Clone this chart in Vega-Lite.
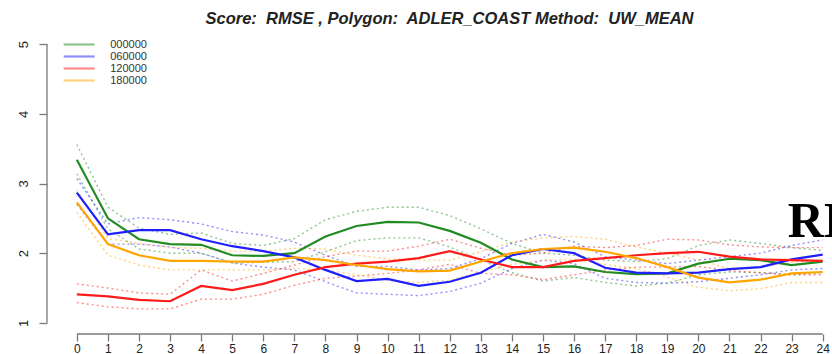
{
  "$schema": "https://vega.github.io/schema/vega-lite/v6.json",
  "autosize": {"type": "none"},
  "padding": {"left": 47, "top": 33, "right": 0, "bottom": 20},
  "width": 785,
  "height": 301,
  "background": "white",
  "title": {
    "text": "Score:\u00a0 RMSE , Polygon:\u00a0 ADLER_COAST  Method:\u00a0 UW_MEAN",
    "font": "Liberation Sans",
    "fontSize": 16.5,
    "fontWeight": "bold",
    "fontStyle": "italic",
    "color": "#222222",
    "anchor": "middle",
    "dx": 10,
    "offset": 6
  },
  "config": {
    "view": {"stroke": null},
    "font": "Liberation Sans",
    "axis": {"labelOverlap": false, "labelBound": false, "labelFlush": false, "grid": false, "domain": false, "title": null}
  },
  "data": {
    "values": [
      {"h": 0, "s": "000000", "m": 3.34, "lo": 3.14, "hi": 3.56},
      {"h": 1, "s": "000000", "m": 2.50, "lo": 2.35, "hi": 2.66},
      {"h": 2, "s": "000000", "m": 2.20, "lo": 2.06, "hi": 2.36},
      {"h": 3, "s": "000000", "m": 2.13, "lo": 2.00, "hi": 2.27},
      {"h": 4, "s": "000000", "m": 2.12, "lo": 2.00, "hi": 2.29},
      {"h": 5, "s": "000000", "m": 1.97, "lo": 1.86, "hi": 2.14},
      {"h": 6, "s": "000000", "m": 1.96, "lo": 1.87, "hi": 2.11},
      {"h": 7, "s": "000000", "m": 2.00, "lo": 1.88, "hi": 2.21},
      {"h": 8, "s": "000000", "m": 2.24, "lo": 2.02, "hi": 2.48},
      {"h": 9, "s": "000000", "m": 2.39, "lo": 2.18, "hi": 2.60},
      {"h": 10, "s": "000000", "m": 2.45, "lo": 2.22, "hi": 2.66},
      {"h": 11, "s": "000000", "m": 2.44, "lo": 2.22, "hi": 2.66},
      {"h": 12, "s": "000000", "m": 2.32, "lo": 2.09, "hi": 2.54},
      {"h": 13, "s": "000000", "m": 2.15, "lo": 1.90, "hi": 2.35},
      {"h": 14, "s": "000000", "m": 1.91, "lo": 1.72, "hi": 2.14},
      {"h": 15, "s": "000000", "m": 1.80, "lo": 1.60, "hi": 2.00},
      {"h": 16, "s": "000000", "m": 1.81, "lo": 1.65, "hi": 1.97},
      {"h": 17, "s": "000000", "m": 1.73, "lo": 1.58, "hi": 1.90},
      {"h": 18, "s": "000000", "m": 1.70, "lo": 1.53, "hi": 1.88},
      {"h": 19, "s": "000000", "m": 1.71, "lo": 1.57, "hi": 1.92},
      {"h": 20, "s": "000000", "m": 1.85, "lo": 1.69, "hi": 2.11},
      {"h": 21, "s": "000000", "m": 1.92, "lo": 1.73, "hi": 2.19},
      {"h": 22, "s": "000000", "m": 1.90, "lo": 1.72, "hi": 2.14},
      {"h": 23, "s": "000000", "m": 1.83, "lo": 1.69, "hi": 2.08},
      {"h": 24, "s": "000000", "m": 1.88, "lo": 1.72, "hi": 2.04},

      {"h": 0, "s": "060000", "m": 2.87, "lo": 2.70, "hi": 3.07},
      {"h": 1, "s": "060000", "m": 2.27, "lo": 2.13, "hi": 2.42},
      {"h": 2, "s": "060000", "m": 2.33, "lo": 2.13, "hi": 2.51},
      {"h": 3, "s": "060000", "m": 2.33, "lo": 2.09, "hi": 2.48},
      {"h": 4, "s": "060000", "m": 2.20, "lo": 2.00, "hi": 2.42},
      {"h": 5, "s": "060000", "m": 2.10, "lo": 1.86, "hi": 2.31},
      {"h": 6, "s": "060000", "m": 2.03, "lo": 1.80, "hi": 2.26},
      {"h": 7, "s": "060000", "m": 1.94, "lo": 1.76, "hi": 2.16},
      {"h": 8, "s": "060000", "m": 1.76, "lo": 1.59, "hi": 1.97},
      {"h": 9, "s": "060000", "m": 1.60, "lo": 1.43, "hi": 1.81},
      {"h": 10, "s": "060000", "m": 1.63, "lo": 1.41, "hi": 1.81},
      {"h": 11, "s": "060000", "m": 1.53, "lo": 1.39, "hi": 1.76},
      {"h": 12, "s": "060000", "m": 1.59, "lo": 1.45, "hi": 1.78},
      {"h": 13, "s": "060000", "m": 1.72, "lo": 1.57, "hi": 1.92},
      {"h": 14, "s": "060000", "m": 1.97, "lo": 1.78, "hi": 2.14},
      {"h": 15, "s": "060000", "m": 2.06, "lo": 1.90, "hi": 2.27},
      {"h": 16, "s": "060000", "m": 2.00, "lo": 1.85, "hi": 2.16},
      {"h": 17, "s": "060000", "m": 1.79, "lo": 1.64, "hi": 1.95},
      {"h": 18, "s": "060000", "m": 1.72, "lo": 1.58, "hi": 1.90},
      {"h": 19, "s": "060000", "m": 1.71, "lo": 1.57, "hi": 1.85},
      {"h": 20, "s": "060000", "m": 1.72, "lo": 1.59, "hi": 1.90},
      {"h": 21, "s": "060000", "m": 1.77, "lo": 1.64, "hi": 1.95},
      {"h": 22, "s": "060000", "m": 1.80, "lo": 1.69, "hi": 2.00},
      {"h": 23, "s": "060000", "m": 1.91, "lo": 1.76, "hi": 2.11},
      {"h": 24, "s": "060000", "m": 1.98, "lo": 1.78, "hi": 2.19},

      {"h": 0, "s": "120000", "m": 1.41, "lo": 1.29, "hi": 1.56},
      {"h": 1, "s": "120000", "m": 1.38, "lo": 1.23, "hi": 1.50},
      {"h": 2, "s": "120000", "m": 1.33, "lo": 1.20, "hi": 1.43},
      {"h": 3, "s": "120000", "m": 1.31, "lo": 1.20, "hi": 1.41},
      {"h": 4, "s": "120000", "m": 1.53, "lo": 1.34, "hi": 1.76},
      {"h": 5, "s": "120000", "m": 1.47, "lo": 1.34, "hi": 1.60},
      {"h": 6, "s": "120000", "m": 1.56, "lo": 1.41, "hi": 1.71},
      {"h": 7, "s": "120000", "m": 1.69, "lo": 1.54, "hi": 1.83},
      {"h": 8, "s": "120000", "m": 1.80, "lo": 1.64, "hi": 1.95},
      {"h": 9, "s": "120000", "m": 1.85, "lo": 1.67, "hi": 2.03},
      {"h": 10, "s": "120000", "m": 1.88, "lo": 1.71, "hi": 2.03},
      {"h": 11, "s": "120000", "m": 1.93, "lo": 1.76, "hi": 2.10},
      {"h": 12, "s": "120000", "m": 2.03, "lo": 1.84, "hi": 2.20},
      {"h": 13, "s": "120000", "m": 1.91, "lo": 1.71, "hi": 2.07},
      {"h": 14, "s": "120000", "m": 1.80, "lo": 1.69, "hi": 1.97},
      {"h": 15, "s": "120000", "m": 1.80, "lo": 1.62, "hi": 2.00},
      {"h": 16, "s": "120000", "m": 1.89, "lo": 1.69, "hi": 2.10},
      {"h": 17, "s": "120000", "m": 1.93, "lo": 1.76, "hi": 2.08},
      {"h": 18, "s": "120000", "m": 1.97, "lo": 1.80, "hi": 2.11},
      {"h": 19, "s": "120000", "m": 2.00, "lo": 1.80, "hi": 2.20},
      {"h": 20, "s": "120000", "m": 2.02, "lo": 1.81, "hi": 2.19},
      {"h": 21, "s": "120000", "m": 1.95, "lo": 1.75, "hi": 2.12},
      {"h": 22, "s": "120000", "m": 1.91, "lo": 1.72, "hi": 2.09},
      {"h": 23, "s": "120000", "m": 1.90, "lo": 1.69, "hi": 2.08},
      {"h": 24, "s": "120000", "m": 1.89, "lo": 1.69, "hi": 2.08},

      {"h": 0, "s": "180000", "m": 2.73, "lo": 2.59, "hi": 2.91},
      {"h": 1, "s": "180000", "m": 2.13, "lo": 1.97, "hi": 2.21},
      {"h": 2, "s": "180000", "m": 1.97, "lo": 1.83, "hi": 2.14},
      {"h": 3, "s": "180000", "m": 1.89, "lo": 1.76, "hi": 2.08},
      {"h": 4, "s": "180000", "m": 1.89, "lo": 1.76, "hi": 2.07},
      {"h": 5, "s": "180000", "m": 1.88, "lo": 1.76, "hi": 2.03},
      {"h": 6, "s": "180000", "m": 1.88, "lo": 1.76, "hi": 2.03},
      {"h": 7, "s": "180000", "m": 1.94, "lo": 1.78, "hi": 2.07},
      {"h": 8, "s": "180000", "m": 1.90, "lo": 1.76, "hi": 2.06},
      {"h": 9, "s": "180000", "m": 1.83, "lo": 1.69, "hi": 1.97},
      {"h": 10, "s": "180000", "m": 1.77, "lo": 1.61, "hi": 1.92},
      {"h": 11, "s": "180000", "m": 1.74, "lo": 1.58, "hi": 1.90},
      {"h": 12, "s": "180000", "m": 1.75, "lo": 1.61, "hi": 1.90},
      {"h": 13, "s": "180000", "m": 1.88, "lo": 1.73, "hi": 2.02},
      {"h": 14, "s": "180000", "m": 2.00, "lo": 1.84, "hi": 2.16},
      {"h": 15, "s": "180000", "m": 2.06, "lo": 1.90, "hi": 2.22},
      {"h": 16, "s": "180000", "m": 2.08, "lo": 1.91, "hi": 2.24},
      {"h": 17, "s": "180000", "m": 2.02, "lo": 1.84, "hi": 2.20},
      {"h": 18, "s": "180000", "m": 1.93, "lo": 1.78, "hi": 2.09},
      {"h": 19, "s": "180000", "m": 1.80, "lo": 1.66, "hi": 2.00},
      {"h": 20, "s": "180000", "m": 1.65, "lo": 1.51, "hi": 1.90},
      {"h": 21, "s": "180000", "m": 1.58, "lo": 1.46, "hi": 1.78},
      {"h": 22, "s": "180000", "m": 1.62, "lo": 1.49, "hi": 1.80},
      {"h": 23, "s": "180000", "m": 1.71, "lo": 1.58, "hi": 1.87},
      {"h": 24, "s": "180000", "m": 1.73, "lo": 1.58, "hi": 1.90}
    ]
  },
  "layer": [
    {
      "data": {"values": [{}]},
      "mark": {"type": "rule", "color": "#7a7a7a", "strokeWidth": 1.3},
      "encoding": {
        "x": {"datum": 0, "type": "quantitative", "scale": {"domain": [-0.96, 24.3], "nice": false, "zero": false}},
        "x2": {"datum": 24},
        "y": {"datum": 0.84, "type": "quantitative", "scale": {"domain": [0.84, 5.16], "nice": false, "zero": false}}
      }
    },
    {
      "data": {"values": [{}]},
      "mark": {"type": "rule", "color": "#7a7a7a", "strokeWidth": 1.3},
      "encoding": {
        "x": {"datum": -0.96, "type": "quantitative"},
        "y": {"datum": 1, "type": "quantitative"},
        "y2": {"datum": 5}
      }
    },
    {
      "transform": [{"fold": ["lo", "hi"], "as": ["b", "v"]}],
      "mark": {"type": "line", "strokeWidth": 1.4, "strokeDash": [2, 3], "opacity": 0.5},
      "encoding": {
        "x": {"field": "h", "type": "quantitative"},
        "y": {"field": "v", "type": "quantitative"},
        "color": {"field": "s", "type": "nominal"},
        "detail": {"field": "b"}
      }
    },
    {
      "mark": {"type": "line", "strokeWidth": 2.2},
      "encoding": {
        "x": {
          "field": "h",
          "type": "quantitative",
          "axis": {
            "values": [0, 1, 2, 3, 4, 5, 6, 7, 8, 9, 10, 11, 12, 13, 14, 15, 16, 17, 18, 19, 20, 21, 22, 23, 24],
            "tickCount": 25,
            "format": "d",
            "tickSize": 7,
            "tickColor": "#7a7a7a",
            "tickWidth": 1.3,
            "labelFontSize": 12,
            "labelColor": "#222222",
            "labelPadding": 2,
            "labelOverlap": false
          }
        },
        "y": {
          "field": "m",
          "type": "quantitative",
          "axis": {
            "values": [1, 2, 3, 4, 5],
            "format": "d",
            "tickSize": 8,
            "tickColor": "#7a7a7a",
            "tickWidth": 1.3,
            "labelAngle": 270,
            "labelAlign": "center",
            "labelBaseline": "bottom",
            "labelFontSize": 13,
            "labelColor": "#222222",
            "labelPadding": 9
          }
        },
        "color": {
          "field": "s",
          "type": "nominal",
          "scale": {
            "domain": ["000000", "060000", "120000", "180000"],
            "range": ["#228b22", "#1f1fff", "#ff1a1a", "#ffa500"]
          },
          "legend": {
            "title": null,
            "orient": "none",
            "legendX": 26.6,
            "legendY": 6,
            "padding": 0,
            "symbolType": "M-4,0H4",
            "symbolSize": 60,
            "symbolStrokeWidth": 2.2,
            "symbolOpacity": 1,
            "rowPadding": 0,
            "labelFontSize": 11,
            "labelOffset": 25.6,
            "labelColor": "#333333"
          }
        }
      }
    },
    {
      "data": {"values": [{}]},
      "mark": {"type": "text", "text": "RMSE", "font": "Liberation Serif", "fontSize": 50, "fontWeight": "bold", "align": "left", "baseline": "alphabetic", "color": "#000000"},
      "encoding": {
        "x": {"datum": 22.88, "type": "quantitative"},
        "y": {"datum": 2.23, "type": "quantitative"}
      }
    }
  ]
}
